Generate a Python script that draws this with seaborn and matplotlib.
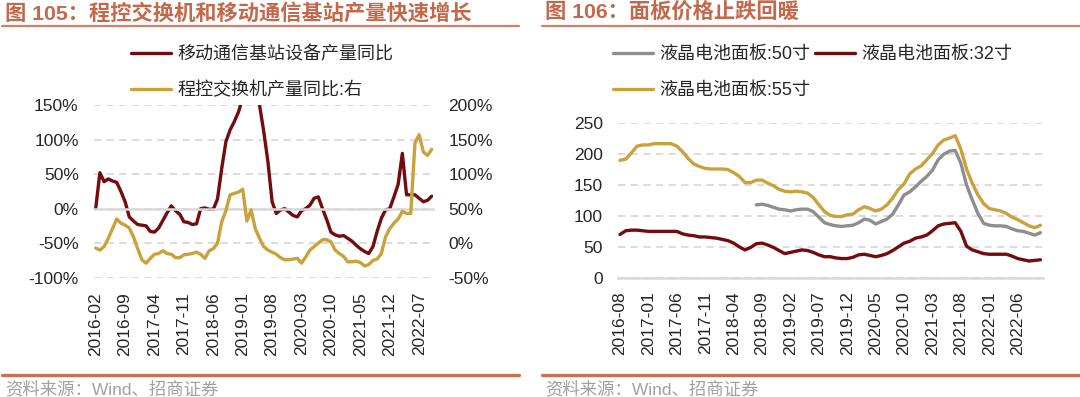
import numpy as np
import pandas as pd
import matplotlib
matplotlib.use("Agg")
import matplotlib.pyplot as plt
from matplotlib.lines import Line2D
from matplotlib.ticker import FuncFormatter
import seaborn as sns

##### DATA
# left chart: monthly yoy, 2016-02 .. 2022-10
left_months = pd.date_range("2016-02", periods=81, freq="MS").strftime("%Y-%m").tolist()
# 移动通信基站设备产量同比 (left axis, %)
base_station = [0, 52, 39, 43, 40, 38, 25, 10, -12, -18,
                -23, -24, -25, -33, -34, -28, -17, -6, 4, -3,
                -8, -19, -20, -23, -22, 0, 1, -1, -1, 14,
                58, 97, 114, 126, 140, 160, 185, 195, 175, 150,
                112, 68, 10, -7, -2, 0, -5, -10, -12, -3,
                0, 5, 15, 17, 0, -16, -34, -38, -40, -39,
                -43, -47, -53, -58, -62, -65, -55, -33, -14, -2,
                0, 17, 35, 80, 20, 20, 20, 15, 10, 12,
                18]
# 程控交换机产量同比 (right axis, %)
switch_yoy = [-7, -10, -5, 7, 21, 35, 29, 26, 22, 9,
              -8, -24, -29, -22, -16, -15, -11, -15, -16, -21,
              -21, -17, -16, -15, -13, -16, -22, -11, -8, 0,
              31, 47, 70, 72, 74, 78, 32, 48, 21, 7,
              -5, -10, -13, -16, -21, -24, -24, -23, -22, -29,
              -20, -10, -5, 0, 5, 5, 2, -10, -15, -19,
              -27, -27, -26, -28, -33, -31, -25, -23, -15, 9,
              21, 29, 35, 46, 43, 43, 145, 157, 132, 127,
              136]
left_labels = ["移动通信基站设备产量同比", "程控交换机产量同比:右"]

# right chart: monthly panel prices, 2016-08 .. 2022-10
right_months = pd.date_range("2016-08", periods=75, freq="MS").strftime("%Y-%m").tolist()
panel_50 = [np.nan] * 24 + [118, 119, 117, 114, 111, 110, 108, 110, 111, 111,
                            107, 98, 89, 86, 84, 83, 84, 85, 89, 95,
                            93, 87, 91, 95, 103, 118, 134, 139, 147, 156,
                            164, 174, 191, 200, 205, 206, 185, 150, 126, 104,
                            88, 85, 84, 84, 83, 79, 76, 75, 72, 69, 73]
panel_32 = [70, 76, 77, 77, 76, 75, 75, 75, 75, 75,
            75, 71, 69, 68, 66, 66, 65, 64, 62, 60,
            56, 50, 45, 49, 55, 56, 53, 49, 44, 39,
            41, 43, 45, 44, 41, 37, 34, 34, 32, 31,
            31, 33, 37, 38, 36, 34, 36, 39, 44, 50,
            56, 59, 64, 66, 69, 76, 84, 87, 88, 89,
            75, 51, 45, 42, 39, 38, 38, 38, 38, 35,
            31, 29, 27, 28, 29]
panel_55 = [190, 192, 202, 213, 215, 215, 217, 217, 217, 217,
            213, 204, 193, 184, 180, 177, 176, 176, 176, 175,
            170, 164, 154, 154, 158, 158, 153, 149, 143, 140,
            139, 140, 139, 137, 130, 118, 107, 101, 99, 99,
            102, 103, 110, 115, 112, 108, 111, 118, 129, 143,
            152, 168, 176, 181, 191, 201, 215, 223, 226, 230,
            208, 176, 153, 134, 120, 112, 110, 108, 104, 98,
            94, 89, 84, 81, 85]
right_labels = ["液晶电池面板:50寸", "液晶电池面板:32寸", "液晶电池面板:55寸"]

##### STYLE
sns.set_style("white")
plt.rcParams["font.family"] = ["Liberation Sans", "Noto Sans CJK SC", "DejaVu Sans"]

BROWN = "#730C0E"
GOLD = "#C9A23C"
GRAY = "#8E8E8E"
GRID = "#D9D9D9"
RUST = "#C4684B"
TXT = "#262626"
LEG_FS = 13

W, H = 1080, 397
fig = plt.figure(figsize=(W / 100, H / 100), dpi=100)


def fx(px):
    return px / W


def fy(py):
    return 1 - py / H


def frame(x0, x1, title):
    #title, underline, bottom rule and source text of one panel
    fig.text(fx(x0 + 3), fy(13), title, fontsize=15.3, fontweight="bold",
             color=RUST, ha="left", va="center")
    fig.add_artist(Line2D([fx(x0), fx(x1)], [fy(26), fy(26)], color="#D0806A",
                          lw=1.6, transform=fig.transFigure))
    fig.add_artist(Line2D([fx(x0), fx(x1)], [fy(375), fy(375)], color="#C8704F",
                          lw=2.4, transform=fig.transFigure))
    fig.text(fx(x0 + 3), fy(389), "资料来源：Wind、招商证券", fontsize=12.5,
             color="#A0A0A0", ha="left", va="center")


def dashed_grid(ax):
    ax.yaxis.grid(True, color=GRID, linestyle=(0, (4, 3)), linewidth=1.3)
    ax.xaxis.grid(False)
    ax.set_axisbelow(True)


### LEFT PANEL
frame(2, 519, "图 105：程控交换机和移动通信基站产量快速增长")

ax = fig.add_axes([fx(94), fy(277.7), fx(433) - fx(94), (277.7 - 105) / H])
ax2 = ax.twinx()
xl = np.arange(len(left_months))

sns.lineplot(x=xl, y=base_station, ax=ax, color=BROWN, linewidth=2.4, label=left_labels[0])
sns.lineplot(x=xl, y=switch_yoy, ax=ax2, color=GOLD, linewidth=2.4, label=left_labels[1])

#spine moved to the 0% line first (this resets the ticks)
for s in ["top", "left", "right"]:
    ax.spines[s].set_visible(False)
for s in ax2.spines:
    ax2.spines[s].set_visible(False)
ax.spines["bottom"].set_position(("data", 0))
ax.spines["bottom"].set_color(GRID)
ax.spines["bottom"].set_linewidth(1.8)

ax.set_ylim(-100, 150)
ax.set_yticks(np.arange(-100, 151, 50))
ax2.set_ylim(-50, 200)
ax2.set_yticks(np.arange(-50, 201, 50))
pct = FuncFormatter(lambda v, p: f"{v:.0f}%")
ax.yaxis.set_major_formatter(pct)
ax2.yaxis.set_major_formatter(pct)
ax.set_xlim(-0.4, 80.3)
ax.set_xticks(xl[::7])
ax.set_xticklabels(left_months[::7], rotation=90, va="top", ha="center")
dashed_grid(ax)

ax.tick_params(axis="x", length=5, width=1.5, color=GRID, pad=55, labelsize=12.5,
               labelcolor=TXT, labelrotation=90)
ax.tick_params(axis="y", length=0, pad=11, labelsize=12.5, labelcolor=TXT)
ax2.tick_params(axis="y", length=0, pad=11, labelsize=12.5, labelcolor=TXT)

h1, l1 = ax.get_legend_handles_labels()
h2, l2 = ax2.get_legend_handles_labels()
ax.get_legend().remove()
ax2.get_legend().remove()
ax2.legend(h1 + h2, l1 + l2, loc="upper left", bbox_to_anchor=(fx(131), fy(46)),
           bbox_transform=fig.transFigure, frameon=False, fontsize=LEG_FS,
           handlelength=2.2, handletextpad=0.35, labelspacing=1.05,
           borderaxespad=0, borderpad=0, labelcolor=TXT)

### RIGHT PANEL
frame(542, 1080, "图 106：面板价格止跌回暖")

bx = fig.add_axes([fx(618.3), fy(277.7), fx(1042.7) - fx(618.3), (277.7 - 123.3) / H])
xr = np.arange(len(right_months))

sns.lineplot(x=xr, y=panel_50, ax=bx, color=GRAY, linewidth=2.4, label=right_labels[0])
sns.lineplot(x=xr, y=panel_32, ax=bx, color=BROWN, linewidth=2.4, label=right_labels[1])
sns.lineplot(x=xr, y=panel_55, ax=bx, color=GOLD, linewidth=2.4, label=right_labels[2])

bx.set_ylim(0, 250)
bx.set_yticks(np.arange(0, 251, 50))
bx.set_xlim(-0.3, 74.4)
bx.set_xticks(xr[::5])
bx.set_xticklabels(right_months[::5], rotation=90, va="top", ha="center")
dashed_grid(bx)
for s in ["top", "left", "right"]:
    bx.spines[s].set_visible(False)
bx.spines["bottom"].set_color(GRID)
bx.spines["bottom"].set_linewidth(1.8)
bx.tick_params(axis="x", length=5, width=1.5, color=GRID, pad=5, labelsize=12.5, labelcolor=TXT)
bx.tick_params(axis="y", length=0, pad=11, labelsize=12.5, labelcolor=TXT)

hr, lr = bx.get_legend_handles_labels()
#column-wise fill: 50寸 / 55寸 in first column, 32寸 in second
bx.legend([hr[0], hr[2], hr[1]], [lr[0], lr[2], lr[1]], ncol=2, loc="upper left",
          bbox_to_anchor=(fx(613), fy(46)), bbox_transform=fig.transFigure,
          frameon=False, fontsize=LEG_FS, handlelength=2.2, handletextpad=0.35,
          labelspacing=1.05, columnspacing=0.3, borderaxespad=0, borderpad=0,
          labelcolor=TXT)

fig.savefig("out.png", dpi=100)
